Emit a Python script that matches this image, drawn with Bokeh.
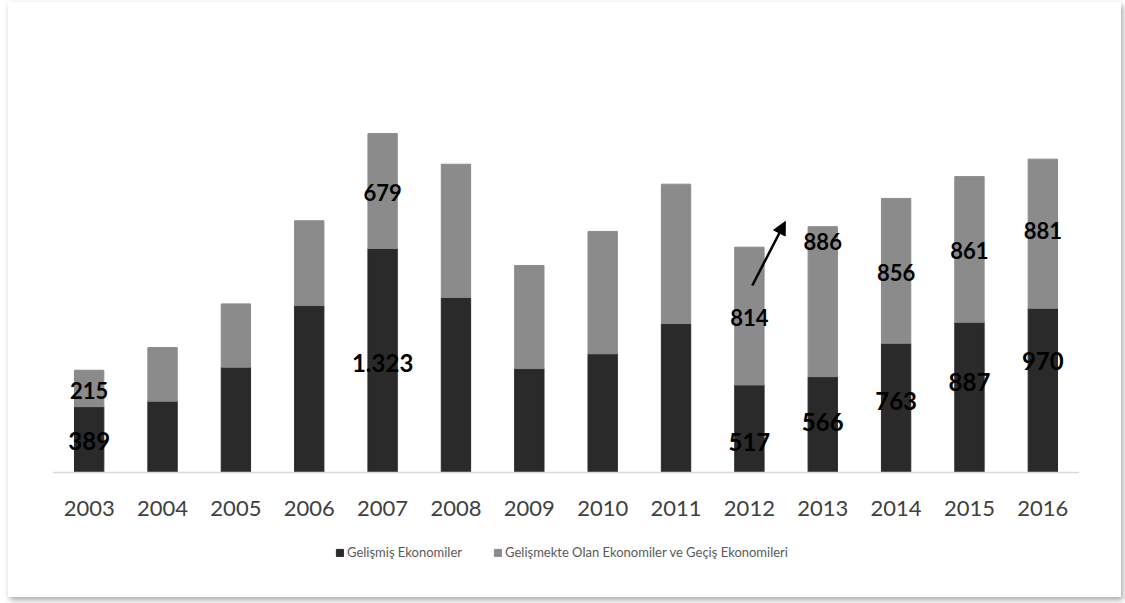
from bokeh.plotting import figure
from bokeh.models import (ColumnDataSource, FactorRange, Range1d, Legend, LegendItem,
                          Arrow, NormalHead)
from bokeh.core.properties import value
from bokeh.embed import file_html
from bokeh.resources import INLINE

# ---- data ----
years = ["2003", "2004", "2005", "2006", "2007", "2008", "2009",
         "2010", "2011", "2012", "2013", "2014", "2015", "2016"]
developed = [389, 421, 622, 986, 1323, 1034, 614, 701, 880, 517, 566, 763, 887, 970]
developing = [215, 317, 374, 501, 679, 787, 609, 723, 823, 814, 886, 856, 861, 881]
series_names = ["Gelişmiş Ekonomiler", "Gelişmekte Olan Ekonomiler ve Geçiş Ekonomileri"]
labeled_years = ["2003", "2007", "2012", "2013", "2014", "2015", "2016"]

# ---- layout / style (label position within segment, as fraction) ----
dark_label_frac = [0.475, 0.49, 0.35, 0.53, 0.55, 0.60, 0.68]
grey_label_frac = [0.44, 0.49, 0.49, 0.90, 0.49, 0.49, 0.52]
DARK = "#2a2a2a"
GREY = "#8b8b8b"
FONT = "Lato"
Y_PER_PX = 2540 / 430.0


def fmt(v):
    return f"{v:,}".replace(",", ".")


src = ColumnDataSource(dict(year=years, dev=developed, devg=developing))

p = figure(x_range=FactorRange(factors=years),
           y_range=Range1d(-125 * Y_PER_PX, 430 * Y_PER_PX),
           frame_width=1027, frame_height=555,
           output_backend="svg", toolbar_location=None,
           min_border_left=44, min_border_right=42, min_border_top=40,
           min_border_bottom=0, margin=(2, 4, 6, 8))
p.styles = {"box-shadow": "2px 3px 6px rgba(0,0,0,0.35)"}

rs = p.vbar_stack(["dev", "devg"], x="year", width=0.4, color=[DARK, GREY],
                  source=src)

# value labels
idx = [years.index(y) for y in labeled_years]
dark_y = [developed[i] * f for i, f in zip(idx, dark_label_frac)]
grey_y = [developed[i] + developing[i] * f for i, f in zip(idx, grey_label_frac)]
p.text(x=labeled_years, y=dark_y, text=[fmt(developed[i]) for i in idx],
       text_font=value(FONT), text_font_style="bold", text_font_size="24px",
       text_align="center", text_baseline="middle", text_color="black")
p.text(x=labeled_years, y=grey_y, text=[fmt(developing[i]) for i in idx],
       text_font=value(FONT), text_font_style="bold", text_font_size="22px",
       text_align="center", text_baseline="middle", text_color="black")

# arrow from 2012 toward 2013
i12 = years.index("2012") + 0.5
tot12 = developed[9] + developing[9]
p.add_layout(Arrow(end=NormalHead(size=13, fill_color="black", line_color="black"),
                   x_start=i12 + 0.04, y_start=tot12 * 0.83,
                   x_end=i12 + 0.49, y_end=tot12 * 1.114,
                   line_width=2.5, line_color="black"))

# axes
p.yaxis.visible = False
p.xgrid.grid_line_color = None
p.ygrid.grid_line_color = None
p.outline_line_color = None
xa = p.xaxis[0]
xa.fixed_location = 0
xa.axis_line_color = "#d9d9d9"
xa.axis_line_width = 1.5
xa.major_tick_line_color = None
xa.minor_tick_line_color = None
xa.major_label_text_font = FONT
xa.major_label_text_font_size = "22px"
xa.major_label_text_color = "#404040"
xa.major_label_standoff = 22

legend = Legend(items=[LegendItem(label=series_names[0], renderers=[rs[0]]),
                       LegendItem(label=series_names[1], renderers=[rs[1]])],
                orientation="horizontal", location=(283, 37),
                label_text_font=FONT, label_text_font_size="13px",
                label_text_color="#595959", glyph_width=9, glyph_height=9,
                spacing=31, label_standoff=3, border_line_color=None,
                background_fill_alpha=0, margin=0, padding=5)
p.add_layout(legend)

open("out.html", "w").write(file_html(p, INLINE))
